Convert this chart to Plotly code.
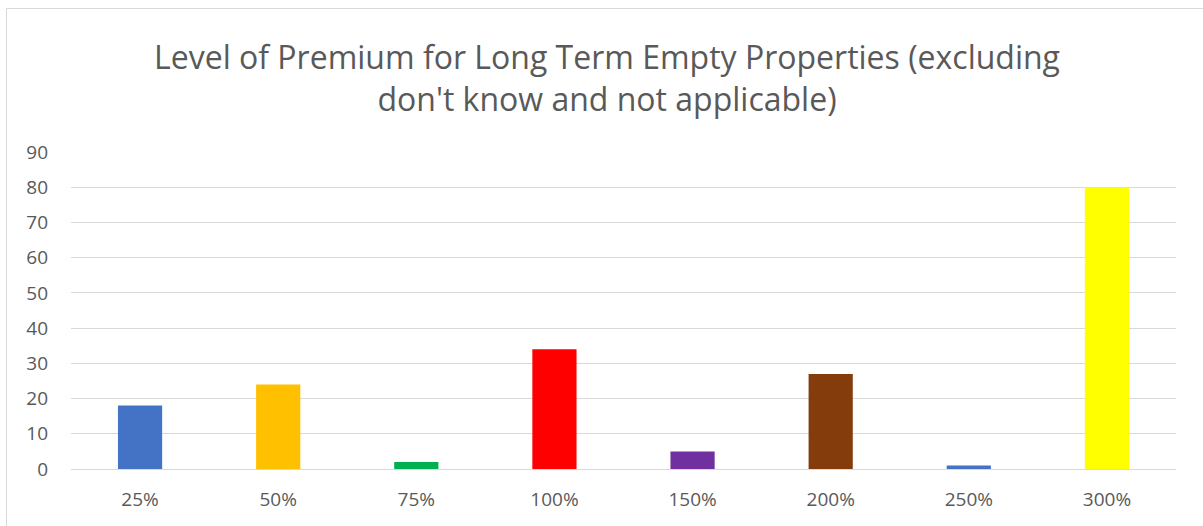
import plotly.graph_objects as go

categories = ["25%", "50%", "75%", "100%", "150%", "200%", "250%", "300%"]
values = [18, 24, 2, 34, 5, 27, 1, 80]
colors = ["#4472C4", "#FFC000", "#00B050", "#FF0000", "#7030A0", "#843C0C", "#4472C4", "#FFFF00"]
y_ticks = list(range(0, 91, 10))

W, H = 1203, 526
ml, mr, mt, mb = 71, 27, 152, 57

fig = go.Figure(go.Bar(x=categories, y=values, marker=dict(color=colors, line=dict(width=0)),
                       width=0.32))

fig.update_layout(
    width=W, height=H,
    margin=dict(l=ml, r=mr, t=mt, b=mb),
    plot_bgcolor="white", paper_bgcolor="white",
    font=dict(family="Open Sans, Noto Sans, sans-serif", color="#595959"),
    title=dict(text="Level of Premium for Long Term Empty Properties (excluding<br>don't know and not applicable)",
               x=607 / W, xanchor="center", xref="container",
               y=1 - 69 / H, yanchor="top", yref="container",
               font=dict(size=32, color="#595959")),
    showlegend=False,
    bargap=0.68,
)
fig.update_xaxes(showgrid=False, showline=True, linecolor="#d9d9d9", linewidth=1,
                 tickfont=dict(size=19, color="#595959"), ticks="", ticklabelstandoff=13)
fig.update_yaxes(range=[0, 90], tickvals=y_ticks, showgrid=True, gridcolor="#d9d9d9", gridwidth=1,
                 zeroline=False, showline=False, tickfont=dict(size=19, color="#595959"),
                 ticks="", ticklabelstandoff=22)

# chart border
pw = W - ml - mr
ph = H - mt - mb
def px(xp):
    return (xp - ml) / pw
def py(yp):
    return (H - mb - yp) / ph
fig.add_shape(type="rect", xref="paper", yref="paper",
              x0=px(6.5), x1=px(1210), y0=py(530), y1=py(8.5),
              line=dict(color="#d9d9d9", width=1), fillcolor="rgba(0,0,0,0)", layer="below")

fig.write_html("out.html", config={"displayModeBar": False},
               post_script="document.body.style.margin='0';document.body.style.overflow='hidden';")
